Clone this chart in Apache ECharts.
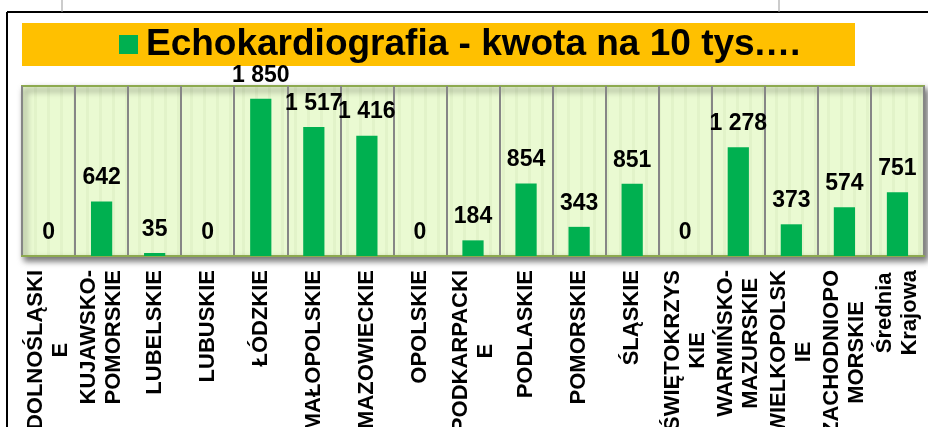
<!DOCTYPE html>
<html>
<head>
<meta charset="utf-8">
<script src="https://cdn.jsdelivr.net/npm/echarts@6/dist/echarts.min.js"></script>
<style>
  html, body { margin: 0; padding: 0; background: #fff; }
  #main { width: 928px; height: 427px; }
</style>
</head>
<body>
<div id="main"></div>
<script>
// dane
var seriesName = 'Echokardiografia - kwota na 10 tys.…';
var wojewodztwa = ['DOLNOŚLĄSKI\nE', 'KUJAWSKO-\nPOMORSKIE', 'LUBELSKIE', 'LUBUSKIE', 'ŁÓDZKIE',
    'MAŁOPOLSKIE', 'MAZOWIECKIE', 'OPOLSKIE', 'PODKARPACKI\nE', 'PODLASKIE', 'POMORSKIE',
    'ŚLĄSKIE', 'ŚWIĘTOKRZYS\nKIE', 'WARMIŃSKO-\nMAZURSKIE', 'WIELKOPOLSK\nIE',
    'ZACHODNIOPO\nMORSKIE', 'Średnia\nKrajowa'];
var kwota = [0, 642, 35, 0, 1850, 1517, 1416, 0, 184, 854, 343, 851, 0, 1278, 373, 574, 751];

var font = '"Liberation Sans", Arial, sans-serif';

// tło wykresu w paski
var pat = document.createElement('canvas');
pat.width = 13; pat.height = 4;
var ctx = pat.getContext('2d');
ctx.fillStyle = '#eafad2';
ctx.fillRect(0, 0, 13, 4);
ctx.fillStyle = '#e2f3c9';
ctx.fillRect(8, 0, 3, 4);

var myChart = echarts.init(document.getElementById('main'));

var option = {
    animation: false,
    backgroundColor: '#fff',
    graphic: [
        { type: 'line', shape: { x1: 7, y1: 12, x2: 928, y2: 12 }, style: { stroke: '#000', lineWidth: 2 } },
        { type: 'line', shape: { x1: 7, y1: 12, x2: 7, y2: 427 }, style: { stroke: '#000', lineWidth: 2 } },
        { type: 'line', shape: { x1: 62, y1: 0, x2: 62, y2: 12 }, style: { stroke: '#999', lineWidth: 1 } },
        { type: 'line', shape: { x1: 779, y1: 0, x2: 779, y2: 12 }, style: { stroke: '#999', lineWidth: 1 } },
        { type: 'rect', z: -1, shape: { x: 22, y: 23, width: 833, height: 43 }, style: { fill: '#ffc000' } }
    ],
    legend: {
        data: [seriesName],
        left: 119,
        top: 26,
        padding: 0,
        itemWidth: 19,
        itemHeight: 19,
        icon: 'rect',
        z: 10,
        textStyle: {
            fontFamily: font,
            fontSize: 37,
            fontWeight: 'bold',
            color: '#000',
            padding: [0, 0, 0, 3]
        }
    },
    grid: {
        left: 22,
        top: 86,
        right: 4,
        bottom: 171,
        containLabel: false,
        outerBoundsMode: 'none',
        show: true,
        backgroundColor: { image: pat, repeat: 'repeat' },
        borderColor: '#8daa4f',
        borderWidth: 2,
        shadowColor: 'rgba(0,0,0,0.55)',
        shadowBlur: 6,
        shadowOffsetX: 3,
        shadowOffsetY: 4
    },
    xAxis: {
        type: 'category',
        data: wojewodztwa,
        axisTick: { show: false },
        axisLine: { lineStyle: { color: '#8daa4f', width: 2 } },
        splitLine: {
            show: true,
            interval: 0,
            lineStyle: { color: '#868686', width: 2 }
        },
        axisLabel: {
            interval: 0,
            rotate: 90,
            margin: 14,
            hideOverlap: false,
            formatter: function (v) {
                return v.split('\n').map(function (s) { return '{c|' + s + '}'; }).join('\n');
            },
            rich: {
                c: {
                    align: 'center',
                    fontFamily: font,
                    fontSize: 22,
                    fontWeight: 'bold',
                    lineHeight: 25,
                    color: '#000'
                }
            }
        }
    },
    yAxis: {
        type: 'value',
        show: false,
        min: 0,
        max: 2000,
        splitLine: { show: false }
    },
    series: [
        {
            name: seriesName,
            type: 'bar',
            barWidth: '40%',
            itemStyle: { color: '#00b050' },
            label: {
                show: true,
                position: 'top',
                distance: 12,
                fontFamily: font,
                fontSize: 23,
                fontWeight: 'bold',
                color: '#000',
                formatter: function (p) {
                    return String(p.value).replace(/\B(?=(\d{3})+(?!\d))/g, ' ');
                }
            },
            data: kwota
        }
    ]
};

myChart.setOption(option);
</script>
</body>
</html>
